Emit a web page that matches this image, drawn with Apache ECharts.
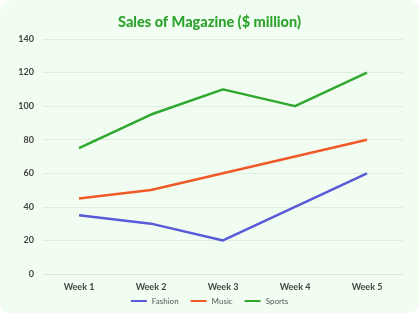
<!DOCTYPE html>
<html><head><meta charset="utf-8">
<script src="https://cdn.jsdelivr.net/npm/echarts@6/dist/echarts.min.js"></script>
<style>
html,body{margin:0;padding:0;background:#fff;}
#c{width:419px;height:313px;background:#f2fdf2;border-radius:10px;}
</style></head><body>
<div id="c"></div>
<script>
const categories = ['Week 1','Week 2','Week 3','Week 4','Week 5'];
const fashion = [35, 30, 20, 40, 60];
const music = [45, 50, 60, 70, 80];
const sports = [75, 95, 110, 100, 120];
const chart = echarts.init(document.getElementById('c'));
const font = 'Lato, "Noto Sans", sans-serif';
chart.setOption({
  backgroundColor: 'transparent',
  textStyle: {fontFamily: font},
  title: {text: 'Sales of Magazine ($ million)', left: 'center', top: 10,
    textStyle: {color: '#2ea32e', fontSize: 14.5, fontWeight: 900, fontFamily: font}},
  legend: {bottom: 3, itemWidth: 16, itemHeight: 2, itemGap: 12, icon: 'rect',
    textStyle: {fontSize: 8, color: '#555', fontFamily: font},
    data: ['Fashion','Music','Sports']},
  grid: {left: 43, right: 16, top: 39, bottom: 39},
  xAxis: {type: 'category', data: categories, boundaryGap: true,
    axisLine: {show: true, lineStyle: {color: '#dde8dd'}}, axisTick: {show: false},
    axisLabel: {color: '#444', fontSize: 9, fontWeight: 'bold', margin: 9}},
  yAxis: {type: 'value', min: 0, max: 140, interval: 20,
    axisLine: {show: false}, axisTick: {show: false},
    splitLine: {lineStyle: {color: '#e2ede2'}},
    axisLabel: {color: '#444', fontSize: 9, fontWeight: 'bold', margin: 9}},
  series: [
    {name: 'Fashion', type: 'line', data: fashion, showSymbol: false, color: '#5a5ad8', lineStyle: {width: 2.5}},
    {name: 'Music', type: 'line', data: music, showSymbol: false, color: '#f05a28', lineStyle: {width: 2.5}},
    {name: 'Sports', type: 'line', data: sports, showSymbol: false, color: '#2ea82e', lineStyle: {width: 2.5}}
  ]
});
</script></body></html>
